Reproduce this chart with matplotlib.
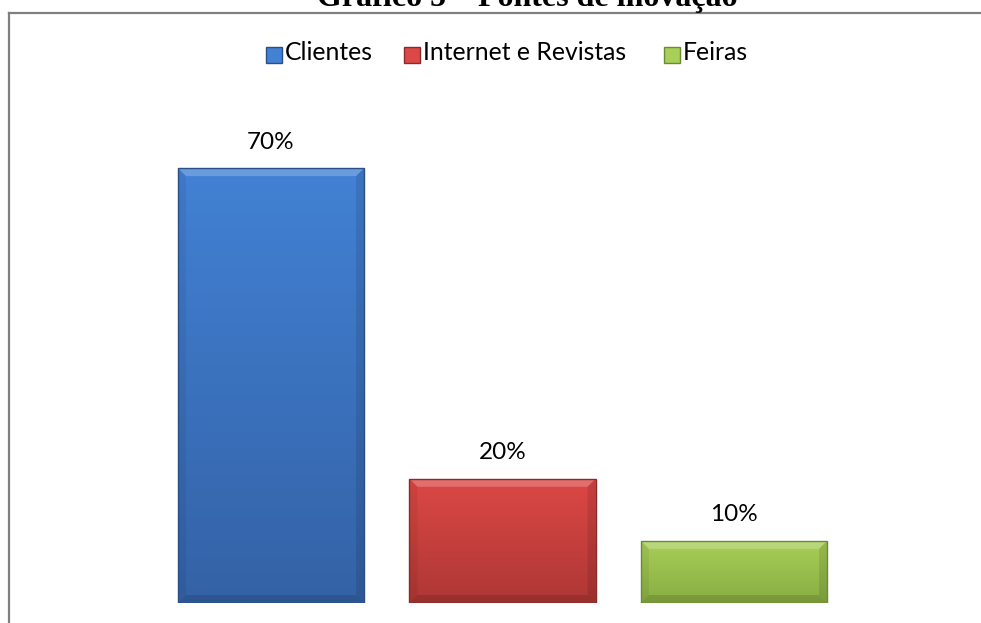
import numpy as np
import matplotlib
matplotlib.use("Agg")
import matplotlib.pyplot as plt
from matplotlib.patches import Rectangle, Polygon
from matplotlib.colors import to_rgb
from matplotlib.lines import Line2D

# ---- data ----
categories = ["Clientes", "Internet e Revistas", "Feiras"]
values = [0.70, 0.20, 0.10]
value_labels = ["70%", "20%", "10%"]
title = "Gráfico 5 – Fontes de inovação"

# ---- styles ----
top_colors = ["#4281D4", "#DC4845", "#A8CF58"]
bot_colors = ["#3462A6", "#AE3735", "#88AD43"]
edge_colors = ["#2B4F85", "#8A2B2A", "#6B8A33"]

W, H = 981, 623
fig = plt.figure(figsize=(W / 100, H / 100), dpi=100)
fig.patch.set_facecolor("white")

ax_w_px, ax_h_px = 694.5, 497
ax = fig.add_axes([155.25 / W, 20 / H, ax_w_px / W, ax_h_px / H])
ax.set_xlim(-0.5, 2.5)
ax.set_ylim(0, 0.8)
ax.axis("off")

px_x = 3.0 / ax_w_px      # data units per pixel (x)
px_y = 0.8 / ax_h_px      # data units per pixel (y)
bev = 8                   # bevel size in pixels

x = np.arange(len(categories))
bars = ax.bar(x, values, width=0.804, color="none", edgecolor="none", zorder=2)

for b, tc, bc, ec in zip(bars, top_colors, bot_colors, edge_colors):
    x0, y0 = b.get_x(), b.get_y()
    w, h = b.get_width(), b.get_height()
    t = np.linspace(0, 1, 64)[:, None]
    c1, c2 = np.array(to_rgb(tc)), np.array(to_rgb(bc))
    grad = (c1[None, None, :] * (1 - t[..., None]) + c2[None, None, :] * t[..., None])
    grad = np.repeat(grad, 2, axis=1)
    im = ax.imshow(grad, extent=[x0, x0 + w, y0, y0 + h], aspect="auto",
                   origin="upper", zorder=2, interpolation="bilinear")
    im.set_clip_path(b)
    bx, by = bev * px_x, bev * px_y
    x1, y1 = x0 + w, y0 + h
    # top bevel (lighter)
    ax.add_patch(Polygon([[x0, y1], [x1, y1], [x1 - bx, y1 - by], [x0 + bx, y1 - by]],
                         closed=True, facecolor="white", alpha=0.22,
                         edgecolor="none", zorder=3))
    # side bevels (slightly darker)
    ax.add_patch(Polygon([[x0, y0], [x0, y1], [x0 + bx, y1 - by], [x0 + bx, y0 + by]],
                         closed=True, facecolor="black", alpha=0.06,
                         edgecolor="none", zorder=3))
    ax.add_patch(Polygon([[x1, y0], [x1, y1], [x1 - bx, y1 - by], [x1 - bx, y0 + by]],
                         closed=True, facecolor="black", alpha=0.10,
                         edgecolor="none", zorder=3))
    ax.add_patch(Polygon([[x0, y0], [x1, y0], [x1 - bx, y0 + by], [x0 + bx, y0 + by]],
                         closed=True, facecolor="black", alpha=0.12,
                         edgecolor="none", zorder=3))
    ax.add_patch(Rectangle((x0, y0), w, h, facecolor="none", edgecolor=ec,
                           linewidth=1.0, zorder=4))

ax.set_xlim(-0.5, 2.5)
ax.set_ylim(0, 0.8)

for xi, v, lab in zip(x, values, value_labels):
    ax.annotate(lab, (xi, v), xytext=(0, 14), textcoords="offset points",
                ha="center", va="baseline", fontsize=17.5, family="Lato",
                color="black")

# title (partly cut off at top, as in the source)
fig.text(527 / W, 1 - 6 / H, title, ha="center", va="baseline",
         family="Liberation Serif", weight="bold", fontsize=23, color="black")

# frame lines
fig.add_artist(Line2D([8.5 / W, 1.0], [1 - 12.5 / H, 1 - 12.5 / H],
                      color="#808080", linewidth=1.6, transform=fig.transFigure))
fig.add_artist(Line2D([8.5 / W, 8.5 / W], [0, 1 - 12.5 / H],
                      color="#808080", linewidth=1.6, transform=fig.transFigure))

# legend
leg_x = [266, 404, 664]
for lx, name, tc, ec in zip(leg_x, categories, top_colors, edge_colors):
    fig.add_artist(Rectangle((lx / W, 1 - 63 / H), 16 / W, 16 / H,
                             facecolor=tc, edgecolor=ec, linewidth=1.0,
                             transform=fig.transFigure))
    fig.text((lx + 19) / W, 1 - 60 / H, name, ha="left", va="baseline",
             family="Lato", fontsize=17.8, color="black")

fig.savefig("out.png", dpi=100)
